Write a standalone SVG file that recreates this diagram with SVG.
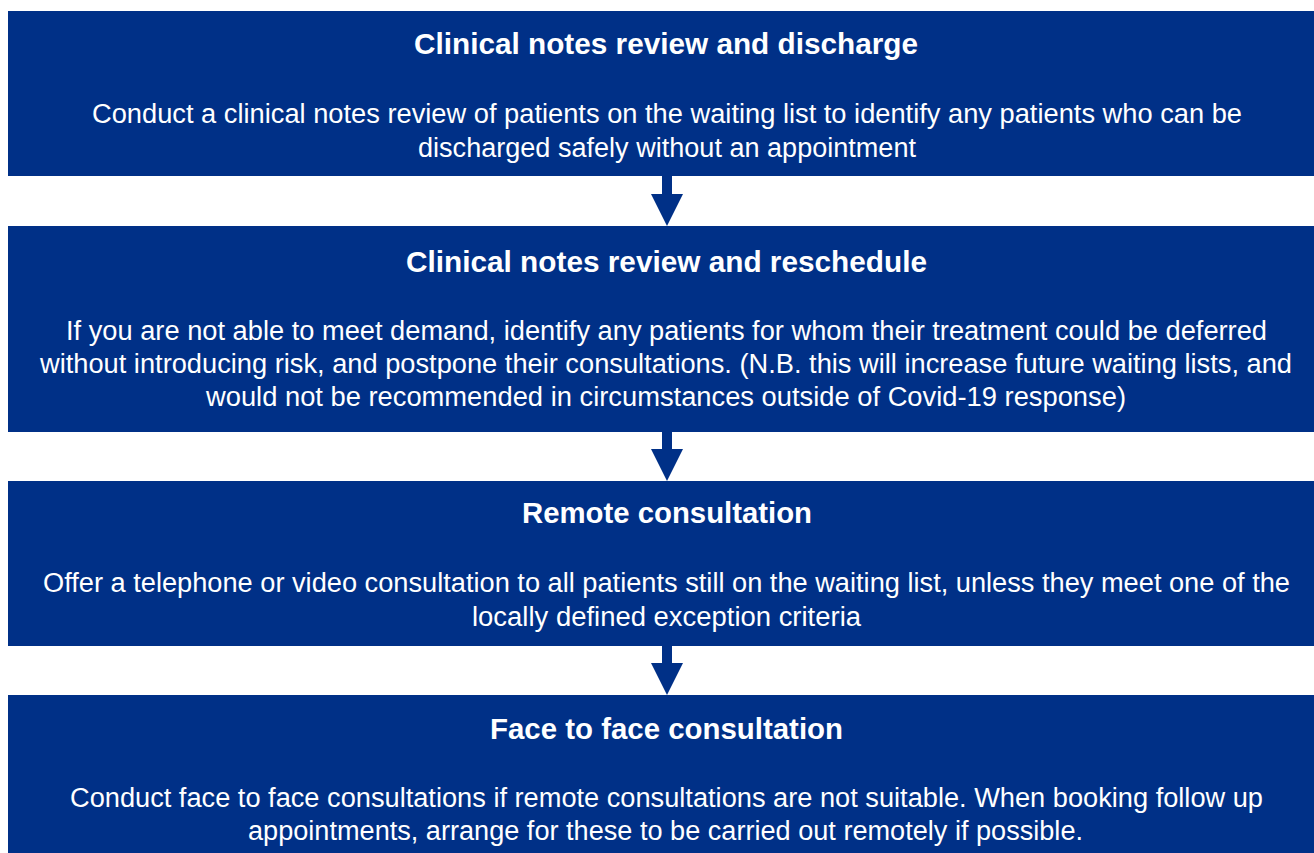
<svg xmlns="http://www.w3.org/2000/svg" width="1314" height="853" viewBox="0 0 1314 853">
<style>
.box{fill:#003087}
.arrow{fill:#003087}
.t{font-family:"Liberation Sans",Arial,sans-serif;font-weight:bold;font-size:29.5px;fill:#ffffff;text-anchor:middle}
.b{font-family:"Liberation Sans",Arial,sans-serif;font-size:27px;fill:#ffffff;text-anchor:middle}
</style>
<rect width="1314" height="853" fill="#ffffff"/>
<g id="connectors">
<path class="arrow" d="M662,176 H672 V194 H683 L667,226 L651,194 H662 Z"/>
<path class="arrow" d="M662,432 H672 V449 H683 L667,481 L651,449 H662 Z"/>
<path class="arrow" d="M662,646 H672 V663 H683 L667,695 L651,663 H662 Z"/>
</g>
<g id="node1">
<rect class="box" x="8" y="11" width="1306" height="165"/>
<text class="t" x="666" y="54.3" textLength="504" lengthAdjust="spacingAndGlyphs">Clinical notes review and discharge</text>
<text class="b" x="667" y="123.3" textLength="1150" lengthAdjust="spacingAndGlyphs">Conduct a clinical notes review of patients on the waiting list to identify any patients who can be</text>
<text class="b" x="667" y="156.8" textLength="498" lengthAdjust="spacingAndGlyphs">discharged safely without an appointment</text>
</g>
<g id="node2">
<rect class="box" x="8" y="226" width="1306" height="206"/>
<text class="t" x="666.5" y="272.3" textLength="521" lengthAdjust="spacingAndGlyphs">Clinical notes review and reschedule</text>
<text class="b" x="666.5" y="340" textLength="1201" lengthAdjust="spacingAndGlyphs">If you are not able to meet demand, identify any patients for whom their treatment could be deferred</text>
<text class="b" x="666" y="373.3" textLength="1252" lengthAdjust="spacingAndGlyphs">without introducing risk, and postpone their consultations. (N.B. this will increase future waiting lists, and</text>
<text class="b" x="666" y="405.7" textLength="920" lengthAdjust="spacingAndGlyphs">would not be recommended in circumstances outside of Covid-19 response)</text>
</g>
<g id="node3">
<rect class="box" x="8" y="481" width="1306" height="165"/>
<text class="t" x="667" y="523.3" textLength="290" lengthAdjust="spacingAndGlyphs">Remote consultation</text>
<text class="b" x="666.5" y="591.7" textLength="1247" lengthAdjust="spacingAndGlyphs">Offer a telephone or video consultation to all patients still on the waiting list, unless they meet one of the</text>
<text class="b" x="666.5" y="625.5" textLength="389" lengthAdjust="spacingAndGlyphs">locally defined exception criteria</text>
</g>
<g id="node4">
<rect class="box" x="8" y="695" width="1306" height="158"/>
<text class="t" x="666.5" y="739" textLength="353" lengthAdjust="spacingAndGlyphs">Face to face consultation</text>
<text class="b" x="666.5" y="806.7" textLength="1193" lengthAdjust="spacingAndGlyphs">Conduct face to face consultations if remote consultations are not suitable. When booking follow up</text>
<text class="b" x="665.5" y="839.5" textLength="835" lengthAdjust="spacingAndGlyphs">appointments, arrange for these to be carried out remotely if possible.</text>
</g>
</svg>
